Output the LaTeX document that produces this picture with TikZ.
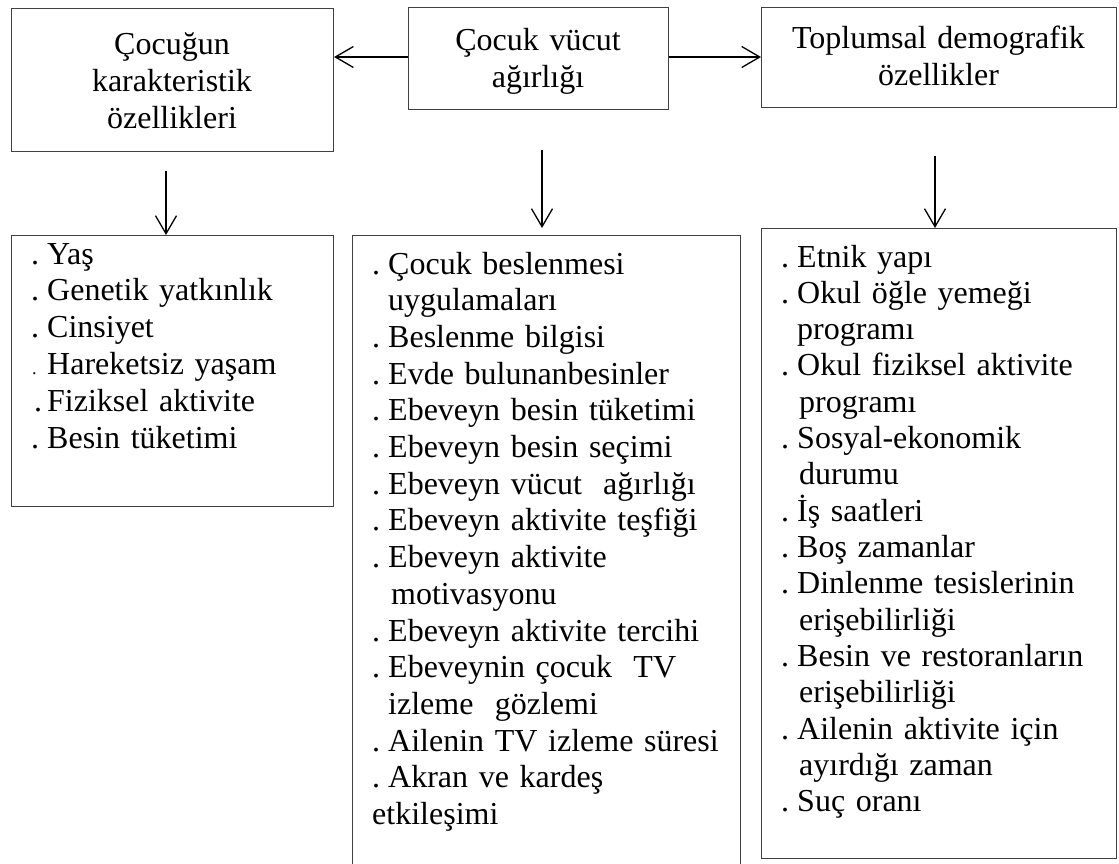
\documentclass[tikz,border=0pt]{standalone}
\usepackage{fontspec}
\setmainfont{Liberation Serif}
\usetikzlibrary{arrows.meta}
\newcommand\bd{\makebox[16pt][l]{.}}
\newcommand\bds{\makebox[16pt][l]{\hspace{1pt}\fontsize{18}{18}\selectfont.}}
\newcommand\bdf{\makebox[16pt][l]{\hspace{3pt}.}}
\begin{document}
\begin{tikzpicture}[x=1pt,y=-1pt,
  box/.style={draw=black!75, line width=1.1pt, inner sep=0pt, anchor=north west},
  title/.style={inner sep=0pt, anchor=base, text width=340pt, align=center,
    font=\fontsize{32}{36.7}\selectfont},
  list/.style={inner sep=0pt, anchor=base west, align=left},
  arr/.style={line width=1.3pt, -{Straight Barb[length=18pt,width=21pt,line width=1.3pt]}}]
\useasboundingbox (0,0) rectangle (1119,864);
\clip (0,0) rectangle (1119,864);
\fill[white] (0,0) rectangle (1119,864);
% top boxes
\node[box, minimum width=322pt, minimum height=143pt] (tl) at (11,8) {};
\node[box, minimum width=260pt, minimum height=102pt] (tm) at (408,7) {};
\node[box, minimum width=355pt, minimum height=100pt] (tr) at (761,7) {};
% list boxes
\node[box, minimum width=322pt, minimum height=271pt] (bl) at (11,235) {};
\node[box, minimum width=388pt, minimum height=640pt] (bm) at (352,235) {};
\node[box, minimum width=355pt, minimum height=630pt] (br) at (761,228) {};
% titles
\node[title] (tlt) at (172,55) {Çocuğun\\karakteristik\\özellikleri};
\node[title] (tmt) at (538,51) {Çocuk vücut\\ağırlığı};
\node[title] (trt) at (938.5,49) {Toplumsal demografik\\özellikler};
% lists
\node[list, text width=300pt, font=\fontsize{32}{36.8}\selectfont] (blt) at (31,264) {%
\bd Yaş\\
\bd Genetik yatkınlık\\
\bd Cinsiyet\\
\bds Hareketsiz yaşam\\
\bdf Fiziksel aktivite\\
\bd Besin tüketimi};
\node[list, text width=366pt, font=\fontsize{32}{36.7}\selectfont] (bmt) at (372,274) {%
\bd Çocuk beslenmesi\\
\hspace*{16pt}uygulamaları\\
\bd Beslenme bilgisi\\
\bd Evde bulunanbesinler\\
\bd Ebeveyn besin tüketimi\\
\bd Ebeveyn besin seçimi\\
\bd Ebeveyn vücut\ \ ağırlığı\\
\bd Ebeveyn aktivite teşfiği\\
\bd Ebeveyn aktivite\\
\hspace*{19pt}motivasyonu\\
\bd Ebeveyn aktivite tercihi\\
\bd Ebeveynin çocuk\ \ TV\\
\hspace*{16pt}izleme\ \ gözlemi\\
\bd Ailenin TV izleme süresi\\
\bd Akran ve kardeş\\
etkileşimi};
\node[list, text width=330pt, font=\fontsize{32}{36.33}\selectfont] (brt) at (781,267) {%
\bd Etnik yapı\\
\bd Okul öğle yemeği\\
\hspace*{16pt}programı\\
\bd Okul fiziksel aktivite\\
\hspace*{18pt}programı\\
\bd Sosyal-ekonomik\\
\hspace*{18pt}durumu\\
\bd İş saatleri\\
\bd Boş zamanlar\\
\bd Dinlenme tesislerinin\\
\hspace*{18pt}erişebilirliği\\
\bd Besin ve restoranların\\
\hspace*{18pt}erişebilirliği\\
\bd Ailenin aktivite için\\
\hspace*{18pt}ayırdığı zaman\\
\bd Suç oranı};
% connectors
\draw[arr] (tm.west |- 0,57) -- (tl.east |- 0,57);
\draw[arr] (tm.east |- 0,57) -- (tr.west |- 0,57);
\coordinate (a1) at (166,171);
\coordinate (a2) at (542,150);
\coordinate (a3) at (935,156);
\draw[arr] (a1) -- (a1 |- bl.north);
\draw[arr] (a2) -- ([yshift=7pt]a2 |- bm.north);
\draw[arr] (a3) -- (a3 |- br.north);
\end{tikzpicture}
\end{document}
